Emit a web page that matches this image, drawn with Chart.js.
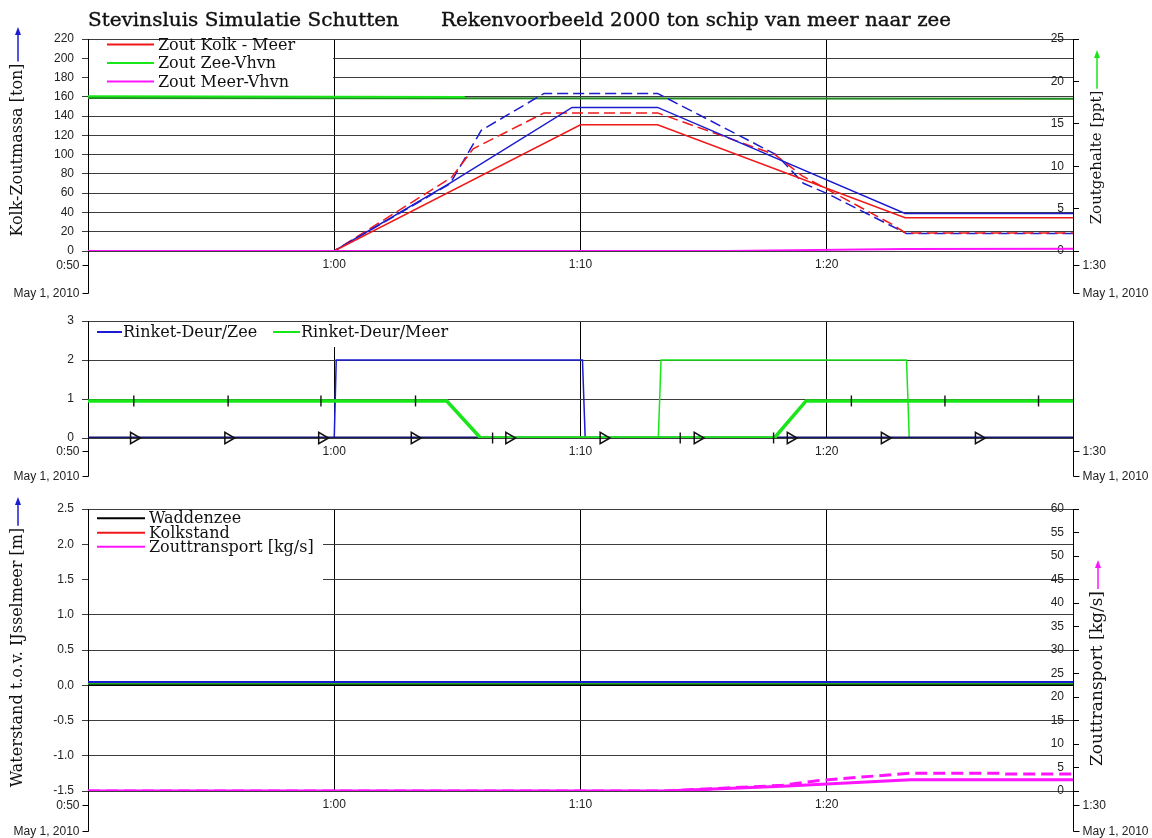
<!DOCTYPE html>
<html>
<head>
<meta charset="utf-8">
<script src="https://cdn.jsdelivr.net/npm/chart.js@4.4.0/dist/chart.umd.min.js"></script>
<style>
  body { margin: 0; background: #fff; width: 1152px; height: 838px; overflow: hidden; position: relative; }
  canvas { position: absolute; left: 0; }
</style>
</head>
<body>
<canvas id="zout" width="1152" height="300" style="top:0px"></canvas>
<canvas id="deuren" width="1152" height="187" style="top:300px"></canvas>
<canvas id="water" width="1152" height="351" style="top:487px"></canvas>
<script>
// time axis in minutes after 0:50
const timeTicks = [0, 10, 20, 30, 40];
const timeLabels = ["0:50", "1:00", "1:10", "1:20", "1:30"];
const dateLabel = "May 1, 2010";

// panel 1: zoutmassa kolk [ton] / zoutgehalte [ppt]
const kolkMeerT = [0, 10, 20.0, 23.13, 33.18, 40];
const kolkMeerTon = [0, 0, 131, 131, 34.5, 34.5];
const kolkMeerDashT = [0, 10, 14.77, 15.64, 18.52, 23.13, 27.9, 29.0, 32.7, 33.2, 40];
const kolkMeerDashTon = [0, 0, 76.5, 106, 143.3, 143.3, 100, 78, 27, 18.8, 18.8];
const kolkZeeT = [0, 10, 14.7, 19.66, 23.13, 33.18, 40];
const kolkZeeTon = [0, 0, 70.5, 149, 149, 39, 39];
const kolkZeeDashT = [0, 10, 14.7, 15.97, 18.52, 23.13, 27.96, 29.05, 30.0, 33.24, 40];
const kolkZeeDashTon = [0, 0, 69.6, 125.2, 163.5, 163.5, 99.8, 70.3, 59.8, 18.1, 18.1];
const zeeVhvnT = [0, 15.3];
const zeeVhvnPpt = [18.25, 18.15];
const zeeRestT = [0, 40];
const zeeRestPpt = [18.05, 17.95];
const meerVhvnT = [0, 26, 33.2, 40];
const meerVhvnPpt = [0, 0, 0.25, 0.28];

// panel 2: rinket deuren
const deurZeeT = [0, 10.0, 10.08, 20.08, 20.19, 40];
const deurZeeV = [0, 0, 2, 2, 0, 0];
const deurMeerT = [0, 23.16, 23.27, 33.24, 33.35, 40];
const deurMeerV = [0, 0, 2, 2, 0, 0];
const standMeerT = [0, 14.57, 15.94, 27.87, 29.16, 40];
const standMeerV = [0.95, 0.95, 0, 0, 0.95, 0.95];
const standZeeT = [0, 40];
const standZeeV = [0, 0];
const markMeerT = [1.86, 5.69, 9.46, 13.3, 16.43, 24.05, 27.84, 31.0, 34.8, 38.6];
const markMeerV = [0.95, 0.95, 0.95, 0.95, 0, 0, 0, 0.95, 0.95, 0.95];
const markZeeT = [1.86, 5.69, 9.5, 13.26, 17.1, 20.93, 24.75, 28.53, 32.35, 36.17];
const markZeeV = [0, 0, 0, 0, 0, 0, 0, 0, 0, 0];

// panel 3: waterstand [m] / zouttransport [kg/s]
const levelT = [0, 40];
const waddenM = [0, 0];
const kolkstandM = [0, 0];
const levelBlueM = [0.045, 0.045];
const levelGreenM = [0.018, 0.018];
const transportT = [0, 23.4, 28.2, 33.4, 40];
const transportKgs = [0, 0, 1.0, 2.4, 2.4];
const transportDashT = [0, 23.4, 28.2, 29.6, 33.4, 37.0, 37.3, 40];
const transportDashKgs = [0, 0, 1.2, 2.2, 3.8, 3.8, 3.6, 3.6];

Chart.defaults.font.family = "'Liberation Sans', Arial, sans-serif";
Chart.defaults.font.size = 12;
Chart.defaults.color = "#222";

const pts = (xs, ys) => xs.map((x, i) => ({ x: x, y: ys[i] }));
const timeLabel = (v) => (v > 0 && v < 40 ? timeLabels[timeTicks.indexOf(v)] : "");

function line(label, xs, ys, color, extra) {
  return Object.assign({
    label: label,
    data: pts(xs, ys),
    borderColor: color,
    backgroundColor: color,
    borderWidth: 1.5,
    pointRadius: 0,
    fill: false,
    tension: 0,
    yAxisID: "y",
  }, extra || {});
}

function xScale(h) {
  return {
    type: "linear", min: 0, max: 40,
    afterFit: (s) => { s.height = h; },
    ticks: { stepSize: 10, padding: 6, maxRotation: 0, callback: timeLabel },
    grid: { color: "#000", drawTicks: false },
    border: { display: false },
  };
}

function decor(o) {
  return {
    id: "decor",
    beforeDatasetsDraw(chart) {
      if (!o.legend) return;
      const { ctx, chartArea: a } = chart;
      const lg = o.legend;
      ctx.save();
      ctx.fillStyle = "#fff";
      ctx.fillRect(a.left + 1, a.top + 1, lg.box[0], lg.box[1]);
      ctx.font = '16px "DejaVu Serif"';
      ctx.textBaseline = "middle";
      ctx.textAlign = "left";
      lg.items.forEach((it) => {
        const ds = chart.data.datasets[it.ds];
        const y = a.top + it.y;
        ctx.strokeStyle = ds.borderColor;
        ctx.lineWidth = 2;
        ctx.setLineDash([]);
        ctx.beginPath();
        ctx.moveTo(a.left + it.lx0, y);
        ctx.lineTo(a.left + it.lx1, y);
        ctx.stroke();
        ctx.fillStyle = "#111";
        ctx.fillText(ds.label, a.left + it.tx, y + 1);
      });
      ctx.restore();
    },
    afterDraw(chart) {
      const { ctx, chartArea: a } = chart;
      const L = Math.round(a.left) + 0.5;
      const R = Math.round(a.right) + 0.5;
      const ly = Math.round(a.bottom + o.labelDy) + 0.5;
      const dy = Math.round(a.bottom + o.dateDy) + 0.5;
      ctx.save();
      ctx.strokeStyle = "#000";
      ctx.lineWidth = 1;
      ctx.beginPath();
      ctx.moveTo(L, a.bottom); ctx.lineTo(L, dy); ctx.lineTo(L - 6, dy);
      ctx.moveTo(L - 6, ly); ctx.lineTo(L, ly);
      ctx.moveTo(R, a.bottom); ctx.lineTo(R, dy); ctx.lineTo(R + 6, dy);
      ctx.moveTo(R, ly); ctx.lineTo(R + 6, ly);
      ctx.stroke();
      ctx.font = "12px 'Liberation Sans'";
      ctx.fillStyle = "#222";
      ctx.textBaseline = "middle";
      ctx.textAlign = "right";
      ctx.fillText(timeLabels[0], L - 9, ly);
      ctx.fillText(dateLabel, L - 9, dy);
      ctx.textAlign = "left";
      ctx.fillText(timeLabels[timeLabels.length - 1], R + 9, ly);
      ctx.fillText(dateLabel, R + 9, dy);

      if (o.title) {
        ctx.font = '18px "DejaVu Serif"';
        ctx.fillStyle = "#111";
        ctx.strokeStyle = "#111";
        ctx.lineWidth = 0.35;
        ctx.textBaseline = "alphabetic";
        o.title.forEach((t) => {
          const w = ctx.measureText(t.text).width;
          ctx.save();
          ctx.translate(t.x, t.y);
          ctx.scale(t.w / w, 1);
          ctx.fillText(t.text, 0, 0);
          ctx.strokeText(t.text, 0, 0);
          ctx.restore();
        });
      }

      (o.yTitles || []).forEach((t) => {
        ctx.font = t.size + 'px "DejaVu Serif"';
        ctx.fillStyle = "#111";
        const cy = a.top + t.cy;
        const w = ctx.measureText(t.text).width;
        ctx.save();
        ctx.translate(t.x, cy);
        ctx.rotate(-Math.PI / 2);
        ctx.textAlign = "center";
        ctx.textBaseline = "middle";
        ctx.fillText(t.text, 0, 0);
        ctx.restore();
        const y0 = cy - w / 2 - 2;
        const tip = a.top + t.tip;
        ctx.strokeStyle = t.color;
        ctx.fillStyle = t.color;
        ctx.lineWidth = 1.5;
        ctx.beginPath();
        ctx.moveTo(t.x, y0);
        ctx.lineTo(t.x, tip + 6);
        ctx.stroke();
        ctx.beginPath();
        ctx.moveTo(t.x, tip);
        ctx.lineTo(t.x - 3, tip + 8);
        ctx.lineTo(t.x + 3, tip + 8);
        ctx.closePath();
        ctx.fill();
      });
      ctx.restore();
    },
  };
}

const red = "#f01818";
const blue = "#1c1cd0";
const green = "#18e618";
const darkGreen = "#1f8a1f";
const magenta = "#ff14ff";
const navy = "#14146e";

// ---------- panel 1 ----------
new Chart(document.getElementById("zout"), {
  type: "line",
  data: {
    datasets: [
      line("Zout Kolk - Meer", kolkMeerT, kolkMeerTon, red, { order: 1 }),
      line("", kolkMeerDashT, kolkMeerDashTon, red, { order: 2, borderDash: [11, 5] }),
      line("", kolkZeeT, kolkZeeTon, blue, { order: 1 }),
      line("", kolkZeeDashT, kolkZeeDashTon, blue, { order: 2, borderDash: [11, 5] }),
      line("Zout Zee-Vhvn", zeeVhvnT, zeeVhvnPpt, green, { order: 0, yAxisID: "y2", borderWidth: 2 }),
      line("", zeeRestT, zeeRestPpt, darkGreen, { order: 3, yAxisID: "y2", borderWidth: 2 }),
      line("Zout Meer-Vhvn", meerVhvnT, meerVhvnPpt, magenta, { order: 0, yAxisID: "y2", borderWidth: 2 }),
    ],
  },
  options: {
    responsive: false,
    animation: false,
    layout: { padding: { top: 39, left: 0, right: 0, bottom: 0 } },
    plugins: { legend: { display: false }, tooltip: { enabled: false } },
    scales: {
      x: xScale(49),
      y: {
        position: "left", min: 0, max: 220,
        afterFit: (s) => { s.width = 88; },
        ticks: { stepSize: 20, padding: 8 },
        grid: { color: "#3c3c3c", tickLength: 6 },
        border: { color: "#000" },
      },
      y2: {
        position: "right", min: 0, max: 25,
        afterFit: (s) => { s.width = 79; },
        ticks: { stepSize: 5, mirror: true, padding: -9 },
        grid: { drawOnChartArea: false, tickLength: 6, color: "#000" },
        border: { color: "#000" },
      },
    },
  },
  plugins: [decor({
    labelDy: 14, dateDy: 42,
    title: [
      { text: "Stevinsluis Simulatie Schutten", x: 88, y: 26, w: 311 },
      { text: "Rekenvoorbeeld 2000 ton schip van meer naar zee", x: 441, y: 26, w: 510 },
    ],
    legend: {
      box: [244, 54],
      items: [
        { ds: 0, lx0: 19, lx1: 66, tx: 70, y: 5.5 },
        { ds: 4, lx0: 19, lx1: 66, tx: 70, y: 24 },
        { ds: 6, lx0: 19, lx1: 66, tx: 70, y: 42.5 },
      ],
    },
    yTitles: [
      { text: "Kolk-Zoutmassa [ton]", size: 16, x: 18, cy: 111, tip: -12, color: "#1c1cd0" },
      { text: "Zoutgehalte [ppt]", size: 15, x: 1097, cy: 118.5, tip: 11, color: "#18e618" },
    ],
  })],
});

// ---------- panel 2 ----------
new Chart(document.getElementById("deuren"), {
  type: "line",
  data: {
    datasets: [
      line("Rinket-Deur/Zee", deurZeeT, deurZeeV, blue, { order: 3 }),
      line("Rinket-Deur/Meer", deurMeerT, deurMeerV, green, { order: 4 }),
      line("", standZeeT, standZeeV, navy, { order: 2, borderWidth: 3 }),
      line("", standMeerT, standMeerV, green, { order: 1, borderWidth: 3.5 }),
      line("", markMeerT, markMeerV, "#111", {
        order: 0, showLine: false, pointStyle: "line", rotation: 90,
        pointRadius: 5.5, pointBorderWidth: 1.4, clip: false,
      }),
      line("", markZeeT, markZeeV, "#111", {
        order: 0, showLine: false, pointStyle: "triangle", rotation: 90,
        pointRadius: 6.5, pointBorderWidth: 1.5, pointBackgroundColor: "rgba(0,0,0,0)", clip: false,
      }),
    ],
  },
  options: {
    responsive: false,
    animation: false,
    layout: { padding: { top: 21, left: 0, right: 79, bottom: 0 } },
    plugins: { legend: { display: false }, tooltip: { enabled: false } },
    scales: {
      x: xScale(49),
      y: {
        position: "left", min: 0, max: 3,
        afterFit: (s) => { s.width = 88; },
        ticks: { stepSize: 1, padding: 8 },
        grid: { color: "#3c3c3c", tickLength: 6 },
        border: { color: "#000" },
      },
    },
  },
  plugins: [decor({
    labelDy: 13, dateDy: 38,
    legend: {
      box: [366, 25],
      items: [
        { ds: 0, lx0: 9, lx1: 34, tx: 35, y: 11 },
        { ds: 1, lx0: 185, lx1: 212, tx: 213, y: 11 },
      ],
    },
  })],
});

// ---------- panel 3 ----------
new Chart(document.getElementById("water"), {
  type: "line",
  data: {
    datasets: [
      line("Waddenzee", levelT, waddenM, "#000", { order: 1 }),
      line("Kolkstand", levelT, kolkstandM, red, { order: 3 }),
      line("Zouttransport [kg/s]", transportT, transportKgs, magenta, { order: 0, yAxisID: "y2", borderWidth: 3 }),
      line("", transportDashT, transportDashKgs, magenta, { order: 0, yAxisID: "y2", borderWidth: 3, borderDash: [12, 6] }),
      line("", levelT, levelBlueM, blue, { order: 2, borderWidth: 2 }),
      line("", levelT, levelGreenM, "#20b020", { order: 2, borderWidth: 2 }),
    ],
  },
  options: {
    responsive: false,
    animation: false,
    layout: { padding: { top: 22, left: 0, right: 0, bottom: 0 } },
    plugins: { legend: { display: false }, tooltip: { enabled: false } },
    scales: {
      x: xScale(47),
      y: {
        position: "left", min: -1.5, max: 2.5,
        afterFit: (s) => { s.width = 88; },
        ticks: { stepSize: 0.5, padding: 8, callback: (v) => v.toFixed(1) },
        grid: { color: "#3c3c3c", tickLength: 6 },
        border: { color: "#000" },
      },
      y2: {
        position: "right", min: 0, max: 60,
        afterFit: (s) => { s.width = 79; },
        ticks: { stepSize: 5, mirror: true, padding: -9 },
        grid: { drawOnChartArea: false, tickLength: 6, color: "#000" },
        border: { color: "#000" },
      },
    },
  },
  plugins: [decor({
    labelDy: 14, dateDy: 40,
    legend: {
      box: [234, 73],
      items: [
        { ds: 0, lx0: 9, lx1: 57, tx: 61, y: 9.3 },
        { ds: 1, lx0: 9, lx1: 57, tx: 61, y: 23.7 },
        { ds: 2, lx0: 9, lx1: 57, tx: 61, y: 37.7 },
      ],
    },
    yTitles: [
      { text: "Waterstand t.o.v. IJsselmeer [m]", size: 16, x: 18, cy: 148.5, tip: -12, color: "#1c1cd0" },
      { text: "Zouttransport [kg/s]", size: 17, x: 1098, cy: 169.5, tip: 51, color: "#ff14ff" },
    ],
  })],
});
</script>
</body>
</html>
